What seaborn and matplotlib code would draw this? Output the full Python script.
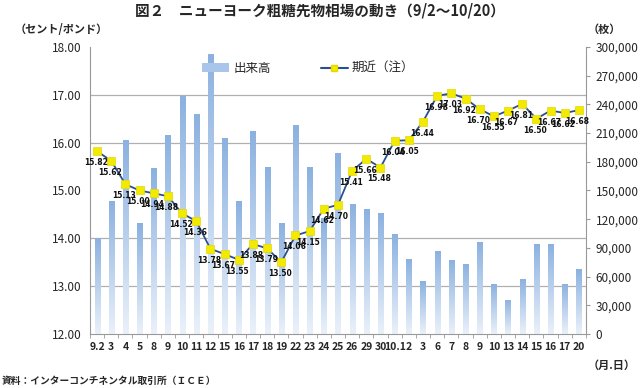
import numpy as np
import pandas as pd
import seaborn as sns
import matplotlib.pyplot as plt
from matplotlib.ticker import MultipleLocator, FuncFormatter
from matplotlib.lines import Line2D
from matplotlib.patches import Patch
from matplotlib.colors import LinearSegmentedColormap


dates = ['9.2', '3', '4', '5', '8', '9', '10', '11', '12', '15', '16', '17', '18', '19',
         '22', '23', '24', '25', '26', '29', '30', '10.1', '2', '3', '6', '7', '8', '9',
         '10', '13', '14', '15', '16', '17', '20']
volume = [100000, 139000, 202500, 116000, 173000, 208500, 248500, 229500, 293000, 205000,
          139000, 212000, 174500, 116000, 218500, 174500, 121000, 189000, 136000, 130500,
          126500, 105000, 78000, 55000, 87000, 77500, 73500, 96500, 52000, 36000,
          57500, 94500, 94500, 52500, 67500]
price = [15.82, 15.62, 15.13, 15.00, 14.94, 14.88, 14.52, 14.36, 13.78, 13.67, 13.55,
         13.88, 13.79, 13.50, 14.06, 14.15, 14.62, 14.70, 15.41, 15.66, 15.48, 16.04,
         16.05, 16.44, 16.98, 17.03, 16.92, 16.70, 16.55, 16.67, 16.81, 16.50, 16.67,
         16.62, 16.68]

df = pd.DataFrame({'pos': range(len(dates)), 'volume': volume, 'price': price})

sns.set_style("white")
plt.rcParams['font.family'] = ['Noto Sans CJK JP', 'DejaVu Sans']

fig = plt.figure(figsize=(6.4, 3.88), dpi=100)
ax = fig.add_axes([0.1406, 0.1392, 0.7750, 0.7397])
ax2 = ax.twinx()

# bars (right axis scale)
sns.barplot(x='pos', y='volume', data=df, color='#8db3e2', width=0.36, ax=ax,
            order=list(range(len(dates))), native_scale=True)
cmap = LinearSegmentedColormap.from_list('bar', ['#eaf1fa', '#8bb1e0'])
grad = np.linspace(0, 1, 256).reshape(-1, 1)
for p in ax.patches:
    x0, y0 = p.get_x(), p.get_y()
    w, h = p.get_width(), p.get_height()
    im = ax.imshow(grad, cmap=cmap, origin='lower', aspect='auto',
                   extent=[x0, x0 + w, y0, y0 + h], zorder=2)
    im.set_clip_path(p)
    p.set_alpha(0)

ax.set_xlim(-0.5, len(dates) - 0.5)
ax.set_ylim(0, 300000)
ax.yaxis.tick_right()
ax.yaxis.set_label_position('right')
ax.yaxis.set_major_locator(MultipleLocator(30000))
ax.yaxis.set_minor_locator(MultipleLocator(50000))
ax.yaxis.set_major_formatter(FuncFormatter(lambda v, _: f'{int(v):,}'))
ax.grid(which='minor', axis='y', color='#b0b0b0', linewidth=0.9)
ax.set_axisbelow(True)
ax.tick_params(axis='y', which='major', direction='out', length=3, color='#999999',
               labelsize=8.5, pad=4, right=True, left=False,
               labelright=True, labelleft=False)
ax.tick_params(axis='y', which='minor', length=0)
ax.set_xticks(range(len(dates)))
ax.set_xticklabels(dates, fontsize=7.5, fontweight='bold')
ax.set_xticks(np.arange(-0.5, len(dates), 1), minor=True)
ax.tick_params(axis='x', which='major', length=0, pad=6)
ax.tick_params(axis='x', which='minor', direction='out', length=3, color='#999999', bottom=True)
ax.set_xlabel('')
ax.set_ylabel('')
for s in ['left', 'right', 'bottom']:
    ax.spines[s].set_color('#999999')
ax.spines['top'].set_visible(False)

# line (left axis scale)
sns.lineplot(x='pos', y='price', data=df, ax=ax2, color='#2b5090', linewidth=1.3,
             marker='s', markersize=5.5, markerfacecolor='#f2ea00',
             markeredgecolor='#e8d800', markeredgewidth=0.5)
for x, y in zip(df['pos'], df['price']):
    ax2.annotate(f'{y:.2f}', (x, y), xytext=(-1, -5), textcoords='offset points',
                 ha='center', va='top', fontsize=5.5, fontweight='bold', color='#111111',
                 family='DejaVu Sans')
ax2.set_ylim(12, 18)
ax2.yaxis.tick_left()
ax2.yaxis.set_label_position('left')
ax2.yaxis.set_major_locator(MultipleLocator(1))
ax2.yaxis.set_major_formatter(FuncFormatter(lambda v, _: f'{v:.2f}'))
ax2.tick_params(axis='y', length=0, labelsize=8.5, pad=6, left=True, right=False,
                labelleft=True, labelright=False)
ax2.set_ylabel('')
ax2.set_xlabel('')
for s in ax2.spines.values():
    s.set_visible(False)

handles = [Patch(facecolor='#a9c5ea', edgecolor='none'),
           Line2D([], [], color='#2b5090', marker='s', markersize=5,
                  markerfacecolor='#f2ea00', markeredgecolor='#e8d800')]
ax2.legend(handles, ['出来高', '期近（注）'], loc='center', bbox_to_anchor=(0.44, 0.925),
           ncol=2, frameon=False, fontsize=9, columnspacing=4, handlelength=2.2,
           handletextpad=0.3)

fig.text(0.5, 0.972, '図２　ニューヨーク粗糖先物相場の動き（9/2～10/20）',
         ha='center', va='center', fontsize=10.5, fontweight='bold')
fig.text(0.095, 0.925, '（セント/ポンド）', ha='center', va='center', fontsize=8, fontweight='bold')
fig.text(0.945, 0.925, '（枚）', ha='center', va='center', fontsize=8, fontweight='bold')
fig.text(0.955, 0.057, '（月.日）', ha='center', va='center', fontsize=8, fontweight='bold')
fig.text(0.002, 0.018, '資料：インターコンチネンタル取引所（ＩＣＥ）', ha='left', va='center',
         fontsize=7, fontweight='bold')

fig.savefig('out.png', dpi=100)
